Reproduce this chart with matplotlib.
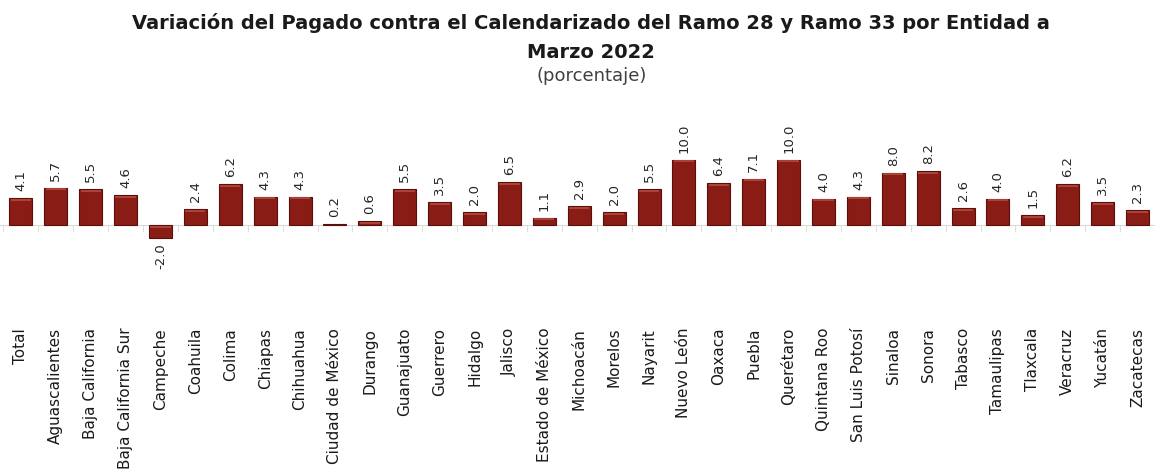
import numpy as np
import matplotlib
matplotlib.use('Agg')
import matplotlib.pyplot as plt

# data
entidades = ['Total', 'Aguascalientes', 'Baja California', 'Baja California Sur', 'Campeche',
             'Coahuila', 'Colima', 'Chiapas', 'Chihuahua', 'Ciudad de México', 'Durango',
             'Guanajuato', 'Guerrero', 'Hidalgo', 'Jalisco', 'Estado de México', 'Michoacán',
             'Morelos', 'Nayarit', 'Nuevo León', 'Oaxaca', 'Puebla', 'Querétaro',
             'Quintana Roo', 'San Luis Potosí', 'Sinaloa', 'Sonora', 'Tabasco', 'Tamaulipas',
             'Tlaxcala', 'Veracruz', 'Yucatán', 'Zacatecas']
variacion = [4.1, 5.7, 5.5, 4.6, -2.0, 2.4, 6.2, 4.3, 4.3, 0.2, 0.6, 5.5, 3.5, 2.0, 6.5, 1.1,
             2.9, 2.0, 5.5, 10.0, 6.4, 7.1, 10.0, 4.0, 4.3, 8.0, 8.2, 2.6, 4.0, 1.5, 6.2, 3.5, 2.3]

titulo = 'Variación del Pagado contra el Calendarizado del Ramo 28 y Ramo 33 por Entidad a'
subtitulo = 'Marzo 2022'
unidad = '(porcentaje)'

plt.rcParams['font.family'] = ['DejaVu Sans']

fig = plt.figure(figsize=(11.55, 4.74), dpi=100)
ax = fig.add_axes([0, 0.470, 1, 0.2211])

x = np.arange(len(entidades))
bars = ax.bar(x, variacion, width=0.66, color='#8A1C16', edgecolor='#5C0E0A', linewidth=0.8, zorder=3)

# thin highlight near the top edge of each bar (3D look of the original)
for b, v in zip(bars, variacion):
    if abs(v) < 0.5:
        continue
    y_hl = max(v, 0) - 0.25
    ax.plot([b.get_x() + 0.04, b.get_x() + b.get_width() - 0.04], [y_hl, y_hl],
            color='#B54A40', linewidth=1.2, zorder=4, solid_capstyle='butt')

for xi, v in zip(x, variacion):
    if v >= 0:
        ax.annotate(f'{v:.1f}', (xi, v), xytext=(0, 5), textcoords='offset points',
                    ha='center', va='bottom', rotation=90, fontsize=9.5, color='#262626')
    else:
        ax.annotate(f'{v:.1f}', (xi, v), xytext=(0, -4), textcoords='offset points',
                    ha='center', va='top', rotation=90, fontsize=9.5, color='#262626')

ax.set_xlim(-0.599, 32.34)
ax.set_ylim(-4, 12)
ax.set_yticks([])
for s in ['top', 'left', 'right']:
    ax.spines[s].set_visible(False)
ax.spines['bottom'].set_position(('data', 0))
ax.spines['bottom'].set_color('#D9D9D9')
ax.spines['bottom'].set_linewidth(0.8)

ax.set_xticks(x)
ax.set_xticklabels(entidades, rotation=90, fontsize=11, color='#1A1A1A')
ax.tick_params(axis='x', which='major', length=0, pad=74)
ax.set_xticks(np.arange(-0.5, len(entidades), 1), minor=True)
ax.tick_params(axis='x', which='minor', length=5, direction='out', color='#D9D9D9')
ax.patch.set_alpha(0)

# titles are centred slightly right of the figure middle in the original
fig.text(0.512, 0.9515, titulo, ha='center', va='center', fontsize=14, fontweight='bold', color='#1A1A1A')
fig.text(0.512, 0.890, subtitulo, ha='center', va='center', fontsize=14, fontweight='bold', color='#1A1A1A')
fig.text(0.512, 0.8397, unidad, ha='center', va='center', fontsize=13, color='#404040')

fig.savefig('out.png', dpi=100)
plt.close(fig)
